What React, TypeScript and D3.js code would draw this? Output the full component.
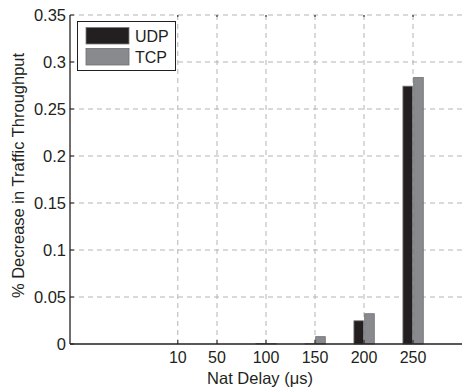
import React from "react";
import * as d3 from "d3";

const delays = [10, 50, 100, 150, 200, 250];
const udp = [0, 0, 0.0004, 0.0002, 0.0247, 0.2743];
const tcp = [0, 0, 0.0003, 0.0078, 0.0322, 0.2835];
const yTicks = [0, 0.05, 0.1, 0.15, 0.2, 0.25, 0.3, 0.35];
const seriesNames = ["UDP", "TCP"];
const seriesColors = ["#231f20", "#898a8e"];
const seriesStrokes = ["#7a7a7a", "#6d6e71"];

const W = 462;
const H = 389;
const margin = { top: 15, right: 0, bottom: 45, left: 70 };
const font = "'Liberation Sans', Arial, Helvetica, sans-serif";

const App = () => {
	const x = d3.scaleLinear().domain([-100, 300]).range([margin.left, W - margin.right]);
	const y = d3.scaleLinear().domain([0, 0.35]).range([H - margin.bottom, margin.top]);
	const barW = 9.8;
	const offsets = [-10.3, 0.7];
	const series = [udp, tcp];

	return (
		<svg width={W} height={H} style={{ position: "absolute", left: 0, top: 0, background: "#fff" }}>
			{/* grid */}
			{yTicks.slice(1).map((t) => (
				<line key={"gy" + t} x1={x.range()[0]} x2={x.range()[1]} y1={y(t)} y2={y(t)}
					stroke="#b4b4b4" strokeDasharray="5,4" />
			))}
			{delays.map((d) => (
				<line key={"gx" + d} x1={x(d)} x2={x(d)} y1={y(0)} y2={y(0.35)}
					stroke="#b4b4b4" strokeDasharray="5,4" />
			))}
			{/* bars */}
			{series.map((vals, s) =>
				vals.map((v, i) => (
					<rect key={s + "-" + i} x={x(delays[i] + offsets[s])} y={y(v)}
						width={x(barW) - x(0)} height={y(0) - y(v)}
						fill={seriesColors[s]} stroke={seriesStrokes[s]} strokeWidth={0.8} />
				)),
			)}
			{/* axes */}
			<line x1={x.range()[0]} x2={x.range()[1]} y1={y(0)} y2={y(0)} stroke="#231f20" strokeWidth={1.3} />
			<line x1={x.range()[0]} x2={x.range()[0]} y1={y(0)} y2={y(0.35)} stroke="#231f20" strokeWidth={1.3} />
			{yTicks.map((t) => (
				<g key={"yt" + t}>
					<line x1={x.range()[0]} x2={x.range()[0] + 4} y1={y(t)} y2={y(t)} stroke="#231f20" />
					<text x={x.range()[0] - 4} y={y(t)} dy="0.36em" textAnchor="end" fontSize={16.5}
						fontFamily={font} fill="#231f20">{t}</text>
				</g>
			))}
			{delays.map((d) => (
				<g key={"xt" + d}>
					<line x1={x(d)} x2={x(d)} y1={y(0)} y2={y(0) - 4} stroke="#231f20" />
					<line x1={x(d)} x2={x(d)} y1={y(0.35)} y2={y(0.35) + 2} stroke="#231f20" />
					<text x={x(d)} y={y(0) + 18.5} textAnchor="middle" fontSize={16}
						fontFamily={font} fill="#231f20">{d}</text>
				</g>
			))}
			{/* axis titles */}
			<text x={(x.range()[0] + x.range()[1]) / 2 - 6} y={384} textAnchor="middle" fontSize={16.5}
				fontFamily={font} fill="#231f20">Nat Delay (μs)</text>
			<text transform={`translate(24,${(y(0) + y(0.35)) / 2 - 4}) rotate(-90)`} textAnchor="middle"
				fontSize={16.5} fontFamily={font} fill="#231f20">% Decrease in Traffic Throughput</text>
			{/* legend */}
			<rect x={77.5} y={21.5} width={98} height={49} fill="#fff" stroke="#231f20" strokeWidth={1} />
			{seriesNames.map((n, i) => (
				<g key={n} transform={`translate(86,${27.5 + i * 21})`}>
					<rect width={43} height={16.5} fill={seriesColors[i]} stroke={seriesStrokes[i]} strokeWidth={0.8} />
					<text x={49} y={14.5} fontSize={16} fontFamily={font} fill="#231f20">{n}</text>
				</g>
			))}
		</svg>
	);
};

export default App;
